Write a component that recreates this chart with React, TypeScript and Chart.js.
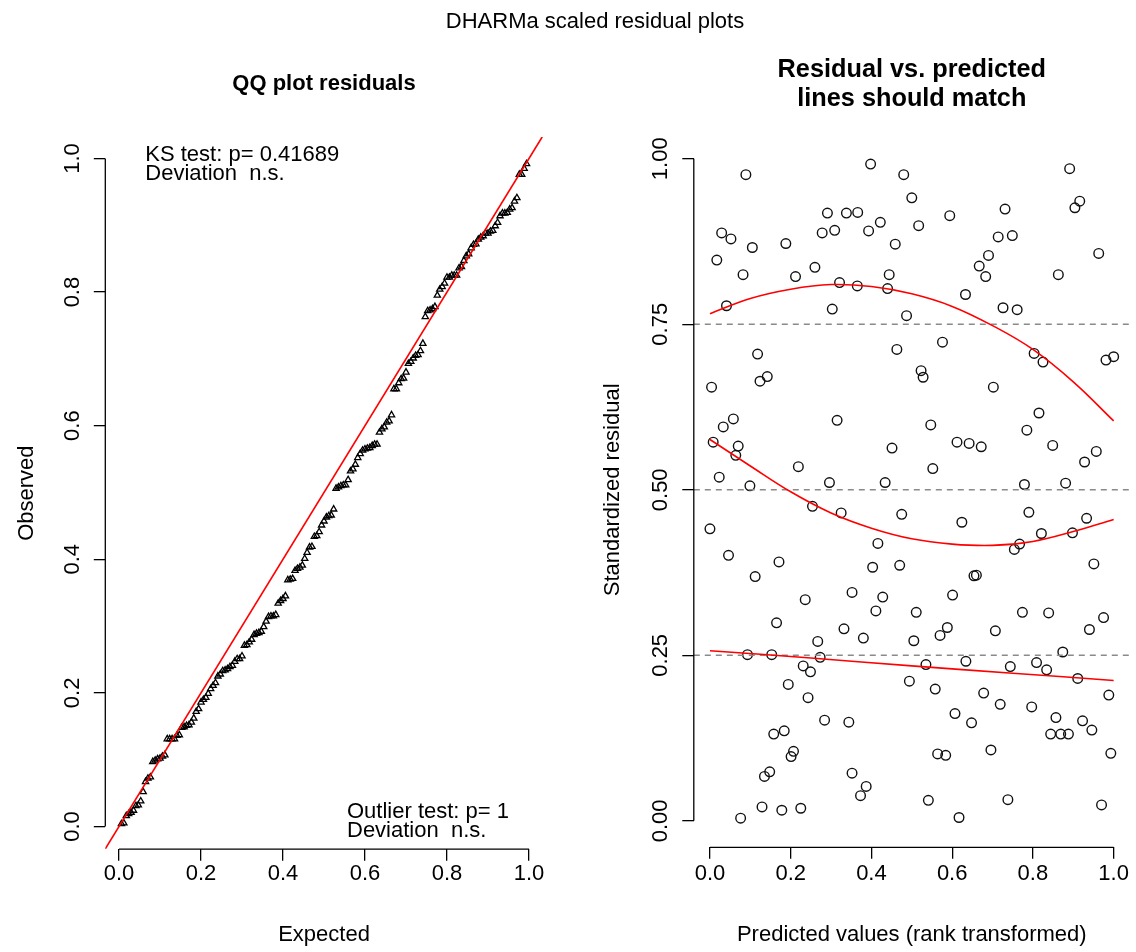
import React, { useEffect, useRef } from "react";
import { Chart, registerables } from "chart.js";

Chart.register(...registerables);

const FONT = "'Liberation Sans', Arial, Helvetica, sans-serif";

// ---- Texts ----
const mainTitle = "DHARMa scaled residual plots";
const qqTitle = "QQ plot residuals";
const resTitleLines = ["Residual vs. predicted", "lines should match"];
const ksLines = ["KS test: p= 0.41689", "Deviation  n.s."];
const outlierLines = ["Outlier test: p= 1", "Deviation  n.s."];
const qqXTitle = "Expected";
const qqYTitle = "Observed";
const resXTitle = "Predicted values (rank transformed)";
const resYTitle = "Standardized residual";

// ---- Right panel data: rank-transformed predictions and scaled residuals ----
const predicted = [
  0.089, 0.398, 0.48, 0.5, 0.291, 0.338, 0.366, 0.029, 0.052, 0.278,
  0.309, 0.393, 0.422, 0.105, 0.188, 0.459, 0.017, 0.082, 0.212, 0.26,
  0.444, 0.321, 0.365, 0.44, 0.041, 0.303, 0.487, 0.118, 0.463, 0.142,
  0.124, 0.891, 0.916, 0.904, 0.594, 0.731, 0.517, 0.714, 0.749, 0.963,
  0.69, 0.667, 0.683, 0.863, 0.633, 0.726, 0.761, 0.576, 0.803, 0.825,
  0.981, 1.0, 0.523, 0.528, 0.004, 0.058, 0.033, 0.315, 0.008, 0.07,
  0.064, 0.451, 0.219, 0.023, 0.099, 0.296, 0.434, 0.254, 0.325, 0.475,
  0.0, 0.416, 0.046, 0.171, 0.403, 0.47, 0.112, 0.352, 0.428, 0.236,
  0.411, 0.702, 0.815, 0.547, 0.785, 0.612, 0.642, 0.672, 0.849, 0.957,
  0.928, 0.552, 0.779, 0.881, 0.624, 0.79, 0.933, 0.821, 0.898, 0.767,
  0.754, 0.951, 0.654, 0.66, 0.601, 0.165, 0.332, 0.38, 0.267, 0.093,
  0.153, 0.273, 0.231, 0.249, 0.194, 0.243, 0.284, 0.344, 0.158, 0.184,
  0.207, 0.201, 0.148, 0.135, 0.352, 0.387, 0.373, 0.129, 0.178, 0.225,
  0.076, 0.511, 0.774, 0.839, 0.975, 0.588, 0.57, 0.707, 0.94, 0.505,
  0.874, 0.535, 0.634, 0.744, 0.809, 0.834, 0.911, 0.494, 0.558, 0.678,
  0.988, 0.719, 0.797, 0.607, 0.648, 0.857, 0.923, 0.946, 0.844, 0.869,
  0.888, 0.564, 0.584, 0.696, 0.993, 0.541, 0.738, 0.97, 0.617,
];
const residuals = [
  0.976, 0.992, 0.976, 0.941, 0.918, 0.918, 0.919, 0.888, 0.879, 0.888,
  0.892, 0.891, 0.904, 0.866, 0.872, 0.871, 0.847, 0.825, 0.822, 0.836,
  0.825, 0.813, 0.808, 0.804, 0.778, 0.773, 0.763, 0.705, 0.712, 0.671,
  0.664, 0.985, 0.936, 0.926, 0.914, 0.924, 0.899, 0.882, 0.884, 0.857,
  0.854, 0.838, 0.822, 0.825, 0.795, 0.775, 0.772, 0.723, 0.706, 0.693,
  0.696, 0.701, 0.68, 0.67, 0.655, 0.607, 0.595, 0.605, 0.572, 0.566,
  0.552, 0.563, 0.535, 0.519, 0.506, 0.511, 0.511, 0.475, 0.465, 0.463,
  0.441, 0.419, 0.401, 0.391, 0.383, 0.386, 0.369, 0.345, 0.338, 0.334,
  0.317, 0.655, 0.616, 0.598, 0.59, 0.572, 0.57, 0.565, 0.567, 0.558,
  0.542, 0.532, 0.508, 0.51, 0.451, 0.466, 0.457, 0.434, 0.435, 0.418,
  0.41, 0.388, 0.37, 0.371, 0.341, 0.299, 0.29, 0.276, 0.271, 0.251,
  0.251, 0.247, 0.234, 0.225, 0.206, 0.186, 0.152, 0.149, 0.131, 0.136,
  0.105, 0.097, 0.074, 0.067, 0.072, 0.052, 0.038, 0.021, 0.016, 0.019,
  0.004, 0.315, 0.315, 0.314, 0.307, 0.292, 0.28, 0.287, 0.289, 0.272,
  0.255, 0.236, 0.241, 0.233, 0.239, 0.228, 0.215, 0.211, 0.199, 0.193,
  0.19, 0.176, 0.172, 0.162, 0.148, 0.156, 0.151, 0.137, 0.131, 0.131,
  0.131, 0.101, 0.099, 0.107, 0.102, 0.031, 0.032, 0.024, 0.005,
];

// ---- Quantile regression smooths ----
const smoothX = [0, 0.1, 0.2, 0.3, 0.4, 0.5, 0.6, 0.7, 0.8, 0.9, 1.0];
const q75 = [0.766, 0.789, 0.803, 0.810, 0.807, 0.796, 0.777, 0.748, 0.712, 0.663, 0.604];
const q50 = [0.576, 0.536, 0.497, 0.465, 0.442, 0.426, 0.418, 0.416, 0.422, 0.437, 0.455];
const lowX = [0, 0.25, 0.5, 0.75, 1.0];
const q25 = [0.257, 0.246, 0.234, 0.223, 0.212];
const refLevels = [0.25, 0.5, 0.75];

// ---- Ticks ----
const unitTicks = [0, 0.2, 0.4, 0.6, 0.8, 1.0];
const unitTickLabels = ["0.0", "0.2", "0.4", "0.6", "0.8", "1.0"];
const resYTicks = [0, 0.25, 0.5, 0.75, 1.0];
const resYTickLabels = ["0.00", "0.25", "0.50", "0.75", "1.00"];

// ---- Axis ranges (R's 4% extension) ----
const qqXRange = [-0.0335, 1.0335];
const qqYRange = [-0.034, 1.032];
const resXRange = [-0.04, 1.04];
const resYRange = [-0.04, 1.04];

const W = 1136;
const H = 952;
const FS = 22;

function drawRAxes(chart: any) {
  const { ctx, chartArea } = chart;
  const xs = chart.scales.x;
  const ys = chart.scales.y;
  const xt = xs.ticks;
  const yt = ys.ticks;
  ctx.save();
  ctx.strokeStyle = "#000";
  ctx.lineWidth = 1.3;
  ctx.beginPath();
  ctx.moveTo(xs.getPixelForValue(xt[0].value), chartArea.bottom);
  ctx.lineTo(xs.getPixelForValue(xt[xt.length - 1].value), chartArea.bottom);
  ctx.moveTo(chartArea.left, ys.getPixelForValue(yt[0].value));
  ctx.lineTo(chartArea.left, ys.getPixelForValue(yt[yt.length - 1].value));
  ctx.stroke();
  ctx.restore();
}

function axisCommon(tickVals: number[], tickLabels: string[], pad: number, isY: boolean) {
  return {
    type: "linear" as const,
    afterBuildTicks: (s: any) => {
      s.ticks = tickVals.map((v) => ({ value: v }));
    },
    border: { display: false },
    grid: {
      drawOnChartArea: false,
      drawTicks: true,
      tickLength: 11.5,
      color: "#000",
      lineWidth: 1.3,
    },
    ticks: {
      autoSkip: false,
      padding: pad,
      color: "#000",
      font: { family: FONT, size: FS },
      callback: (_v: any, i: number) => tickLabels[i],
      minRotation: isY ? 90 : 0,
      maxRotation: isY ? 90 : 0,
      crossAlign: "center" as const,
    },
  };
}

export default function App() {
  const leftRef = useRef<HTMLCanvasElement | null>(null);
  const rightRef = useRef<HTMLCanvasElement | null>(null);

  useEffect(() => {
    const n = residuals.length;
    const observed = [...residuals].sort((a, b) => a - b);
    const qqPoints = observed.map((o, i) => ({ x: (i + 1) / (n + 1), y: o }));

    const leftArea = { left: 105.3, right: 542.7, top: 137.1, bottom: 849.2 };
    const rightArea = { left: 693.8, right: 1131.2, top: 132.3, bottom: 847.3 };

    const leftDecor = {
      id: "leftDecor",
      afterDraw(chart: any) {
        drawRAxes(chart);
        const { ctx, chartArea: ca } = chart;
        ctx.save();
        ctx.fillStyle = "#000";
        ctx.textAlign = "center";
        ctx.textBaseline = "middle";
        ctx.font = `${FS}px ${FONT}`;
        ctx.fillText(mainTitle, 595, 22);
        ctx.font = `bold ${FS}px ${FONT}`;
        ctx.fillText(qqTitle, (ca.left + ca.right) / 2, 84);
        ctx.font = `${FS}px ${FONT}`;
        ctx.textAlign = "left";
        ctx.textBaseline = "alphabetic";
        ksLines.forEach((t, i) => ctx.fillText(t, ca.left + 40, 160.8 + i * 19.3));
        outlierLines.forEach((t, i) => ctx.fillText(t, 347, ca.bottom - 31.7 + i * 19.3));
        ctx.restore();
      },
    };

    const rightDecor = {
      id: "rightDecor",
      afterDraw(chart: any) {
        drawRAxes(chart);
        const { ctx, chartArea: ca } = chart;
        ctx.save();
        ctx.fillStyle = "#000";
        ctx.textAlign = "center";
        ctx.textBaseline = "middle";
        ctx.font = `bold 25.3px ${FONT}`;
        resTitleLines.forEach((t, i) => ctx.fillText(t, (ca.left + ca.right) / 2, 70 + i * 29));
        ctx.restore();
      },
    };

    const leftX = axisCommon(unitTicks, unitTickLabels, 13.6, false);
    const leftY = axisCommon(unitTicks, unitTickLabels, 6, true);
    const left = new Chart(leftRef.current as HTMLCanvasElement, {
      type: "scatter",
      data: {
        datasets: [
          {
            data: [
              { x: qqXRange[0], y: qqXRange[0] },
              { x: qqXRange[1], y: qqXRange[1] },
            ],
            showLine: true,
            borderColor: "#ff0000",
            borderWidth: 1.6,
            pointRadius: 0,
          },
          {
            data: qqPoints,
            pointStyle: "triangle",
            pointRadius: 3.6,
            borderColor: "#000",
            backgroundColor: "rgba(0,0,0,0)",
            borderWidth: 1.3,
          },
        ],
      } as any,
      options: {
        responsive: false,
        animation: false,
        events: [],
        layout: {
          padding: { left: 0, top: leftArea.top, right: W - leftArea.right, bottom: 0 },
        },
        plugins: {
          legend: { display: false },
          tooltip: { enabled: false },
          title: { display: false },
        },
        scales: {
          x: {
            ...leftX,
            min: qqXRange[0],
            max: qqXRange[1],
            afterFit: (s: any) => {
              s.height = H - leftArea.bottom;
              s.paddingLeft = 0;
              s.paddingRight = 0;
            },
            title: {
              display: true,
              text: qqXTitle,
              color: "#000",
              font: { family: FONT, size: FS },
              padding: { top: 0, bottom: 3.4 },
            },
          },
          y: {
            ...leftY,
            min: qqYRange[0],
            max: qqYRange[1],
            afterFit: (s: any) => {
              s.width = leftArea.left;
              s.paddingTop = 0;
              s.paddingBottom = 0;
            },
            title: {
              display: true,
              text: qqYTitle,
              color: "#000",
              font: { family: FONT, size: FS },
              padding: { top: 13.4, bottom: 0 },
            },
          },
        },
      } as any,
      plugins: [leftDecor],
    });

    const rightX = axisCommon(unitTicks, unitTickLabels, 15.5, false);
    const rightY = axisCommon(resYTicks, resYTickLabels, 0.4, true);
    const pts = predicted.map((x, i) => ({ x, y: residuals[i] }));
    const refDatasets = refLevels.map((lv) => ({
      data: [
        { x: resXRange[0], y: lv },
        { x: resXRange[1], y: lv },
      ],
      showLine: true,
      borderColor: "#8a8a8a",
      borderWidth: 1.4,
      borderDash: [6, 5],
      pointRadius: 0,
    }));
    const curve = (xs: number[], ys: number[]) => ({
      data: xs.map((x, i) => ({ x, y: ys[i] })),
      showLine: true,
      borderColor: "#ff0000",
      borderWidth: 1.6,
      pointRadius: 0,
      tension: 0.4,
    });

    const right = new Chart(rightRef.current as HTMLCanvasElement, {
      type: "scatter",
      data: {
        datasets: [
          curve(smoothX, q75),
          curve(smoothX, q50),
          curve(lowX, q25),
          ...refDatasets,
          {
            data: pts,
            pointStyle: "circle",
            pointRadius: 4.8,
            borderColor: "#111",
            backgroundColor: "rgba(0,0,0,0)",
            borderWidth: 1.4,
          },
        ],
      } as any,
      options: {
        responsive: false,
        animation: false,
        events: [],
        layout: {
          padding: { left: 568, top: rightArea.top, right: W - rightArea.right, bottom: 0 },
        },
        plugins: {
          legend: { display: false },
          tooltip: { enabled: false },
          title: { display: false },
        },
        scales: {
          x: {
            ...rightX,
            min: resXRange[0],
            max: resXRange[1],
            afterFit: (s: any) => {
              s.height = H - rightArea.bottom;
              s.paddingLeft = 0;
              s.paddingRight = 0;
            },
            title: {
              display: true,
              text: resXTitle,
              color: "#000",
              font: { family: FONT, size: FS },
              padding: { top: 0, bottom: 3.4 },
            },
          },
          y: {
            ...rightY,
            min: resYRange[0],
            max: resYRange[1],
            afterFit: (s: any) => {
              s.width = rightArea.left - 568;
              s.paddingTop = 0;
              s.paddingBottom = 0;
            },
            title: {
              display: true,
              text: resYTitle,
              color: "#000",
              font: { family: FONT, size: FS },
              padding: { top: 31.4, bottom: 0 },
            },
          },
        },
      } as any,
      plugins: [rightDecor],
    });

    return () => {
      left.destroy();
      right.destroy();
    };
  }, []);

  const cstyle: React.CSSProperties = { position: "absolute", left: 0, top: 0 };
  return (
    <div style={{ position: "absolute", left: 0, top: 0, width: W, height: H, background: "#fff", overflow: "hidden" }}>
      <canvas ref={leftRef} width={W} height={H} style={cstyle} />
      <canvas ref={rightRef} width={W} height={H} style={cstyle} />
    </div>
  );
}
